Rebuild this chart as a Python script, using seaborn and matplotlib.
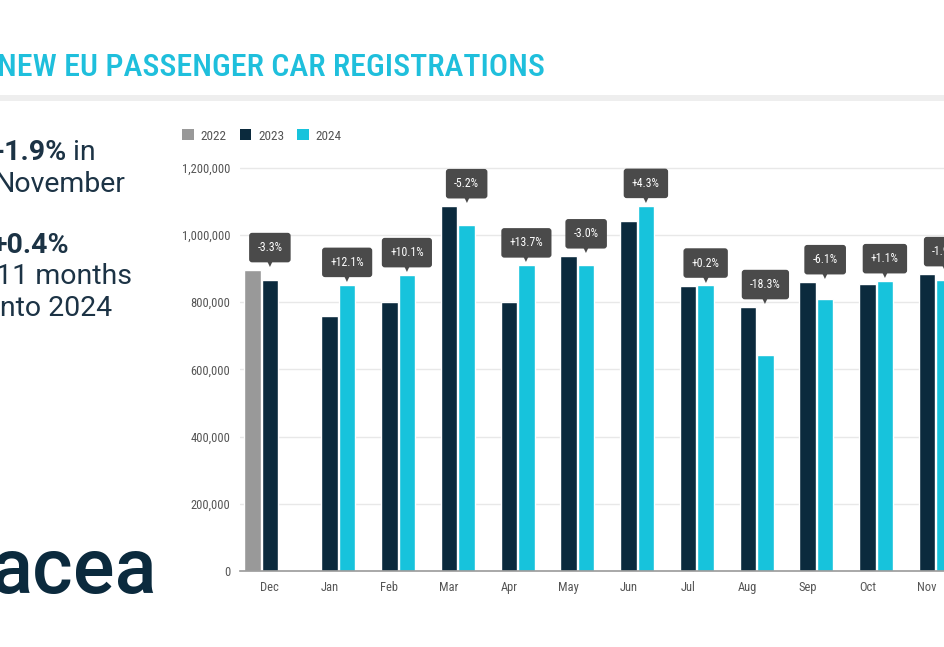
import matplotlib
matplotlib.use("Agg")
import matplotlib.pyplot as plt
from matplotlib import font_manager as fm
from matplotlib.patches import Patch, Rectangle
from matplotlib.ticker import FuncFormatter
import seaborn as sns
import pandas as pd

# ---- data ----
months = ["Dec", "Jan", "Feb", "Mar", "Apr", "May", "Jun", "Jul", "Aug", "Sep", "Oct", "Nov"]
years = ["2022", "2023", "2024"]
val_2022 = [896000, None, None, None, None, None, None, None, None, None, None, None]
val_2023 = [866000, 760000, 800000, 1086000, 800000, 937000, 1042000, 848000, 786000, 860000, 854000, 884000]
val_2024 = [None, 852000, 881000, 1030000, 910000, 909000, 1087000, 850000, 642000, 808000, 863000, 867000]
changes = ["-3.3%", "+12.1%", "+10.1%", "-5.2%", "+13.7%", "-3.0%", "+4.3%", "+0.2%",
           "-18.3%", "-6.1%", "+1.1%", "-1.9%"]
y_ticks = [0, 200000, 400000, 600000, 800000, 1000000, 1200000]

colors = {"2022": "#999999", "2023": "#0b2a3d", "2024": "#17c3dc"}

rows = []
for yr, vals in zip(years, [val_2022, val_2023, val_2024]):
    for m, v in zip(months, vals):
        if v is not None:
            rows.append({"month": m, "year": yr, "value": v})
df = pd.DataFrame(rows)

sns.set_style("white")
avail = {f.name for f in fm.fontManager.ttflist}
def pick(*names):
    for n in names:
        if n in avail:
            return n
    return "DejaVu Sans"
cond_font = pick("Roboto Condensed", "Liberation Sans Narrow", "Roboto", "DejaVu Sans")
body_font = pick("Roboto", "Lato", "DejaVu Sans")
plt.rcParams["font.family"] = [body_font, "DejaVu Sans"]

W, H = 945, 647
fig = plt.figure(figsize=(W / 100, H / 100), dpi=100)

# axes geometry (pixels)
ax_left, ax_right, ax_bottom, ax_top = 240, 957, 571, 134
ax = fig.add_axes([ax_left / W, 1 - ax_bottom / H, (ax_right - ax_left) / W, (ax_bottom - ax_top) / H])

bw = 0.88
sns.barplot(data=df, x="month", y="value", hue="year", order=months, hue_order=years,
            palette=colors, width=bw, gap=0.06, ax=ax, legend=False, saturation=1)

ax.set_xlim(-0.5, 11.5)
ax.set_ylim(0, 1300000)
ax.set_yticks(y_ticks)
ax.yaxis.set_major_formatter(FuncFormatter(lambda v, p: f"{int(v):,}"))
ax.set_xlabel("")
ax.set_ylabel("")
ax.grid(axis="y", color="#e8e8e8", linewidth=1)
ax.set_axisbelow(True)
for s in ["left", "top", "right"]:
    ax.spines[s].set_visible(False)
ax.spines["bottom"].set_color("#9a9a9a")
ax.spines["bottom"].set_linewidth(1.2)
ax.tick_params(axis="both", length=0, labelsize=9, colors="#555555")
ax.tick_params(axis="x", pad=7)
ax.tick_params(axis="y", pad=7)
for lab in ax.get_xticklabels() + ax.get_yticklabels():
    lab.set_family([cond_font, "DejaVu Sans"])

# map bars
bars = {}
for yr, cont in zip(years, ax.containers):
    for b in cont:
        xi = int(round(b.get_x() + b.get_width() / 2))
        bars[(xi, yr)] = b

for i, txt in enumerate(changes):
    newer = "2023" if i == 0 else "2024"
    older = "2022" if i == 0 else "2023"
    bn = bars[(i, newer)]
    bo = bars[(i, older)]
    xc = bn.get_x() + bn.get_width() / 2
    top = max(bn.get_height(), bo.get_height())
    ax.annotate(txt, xy=(xc, top), xytext=(0, 16), textcoords="offset points",
                ha="center", va="center", fontsize=8.5, color="white",
                family=[cond_font, "DejaVu Sans"],
                bbox=dict(boxstyle="round,pad=0.7,rounding_size=0.25", fc="#4a4a4a", ec="none"),
                annotation_clip=False)
    ax.annotate("\u25BC", xy=(xc, top), xytext=(0, 4.5), textcoords="offset points",
                ha="center", va="center", fontsize=5.5, color="#4a4a4a",
                family="DejaVu Sans", annotation_clip=False)

# legend
handles = [Patch(facecolor=colors[y], edgecolor="none", label=y) for y in years]
fig.legend(handles=handles, loc="center left", bbox_to_anchor=(170 / W, 1 - 136 / H),
           ncol=3, frameon=False, labelcolor="#555555",
           prop=fm.FontProperties(family=cond_font, size=9.5),
           handlelength=0.9, handleheight=0.9, handletextpad=0.5, columnspacing=1.0)

# title
fig.text(-3 / W, 1 - 68 / H, "NEW EU PASSENGER CAR REGISTRATIONS", family=[cond_font, "DejaVu Sans"],
         fontsize=23, color="#1fbfdc", ha="left", va="center", weight="medium")
fig.patches.append(Rectangle((0, 1 - 101 / H), 1, 6 / H, transform=fig.transFigure,
                             facecolor="#eeeeee", edgecolor="none"))

navy = "#1c3345"
fs = 20.5
renderer = fig.canvas.get_renderer()
t1 = fig.text(-7 / W, 1 - 152 / H, "-1.9%", fontsize=fs, weight="bold", color=navy, va="center", ha="left")
bb = t1.get_window_extent(renderer)
fig.text((bb.x1 + 7) / W, 1 - 152 / H, "in", fontsize=fs, color=navy, va="center", ha="left")
fig.text(-5 / W, 1 - 184 / H, "November", fontsize=fs, color=navy, va="center", ha="left")
fig.text(-9 / W, 1 - 246 / H, "+0.4%", fontsize=fs, weight="bold", color=navy, va="center", ha="left")
fig.text(-4 / W, 1 - 277 / H, "11 months", fontsize=fs, color=navy, va="center", ha="left")
fig.text(-7 / W, 1 - 309 / H, "into 2024", fontsize=fs, color=navy, va="center", ha="left")

# logo
fig.text(-10 / W, 1 - 572 / H, "acea", fontsize=56, weight="medium", color="#0b2a3d", va="center", ha="left")

fig.savefig("out.png", dpi=100)
